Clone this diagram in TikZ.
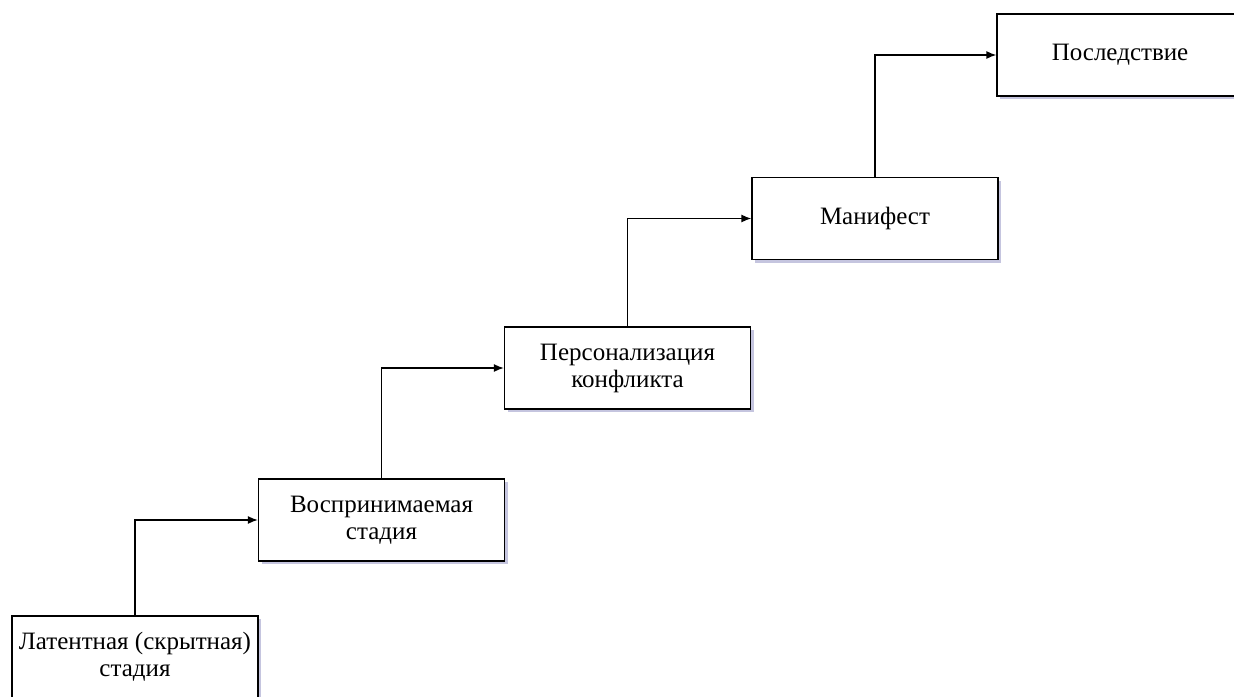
\documentclass[tikz,border=0pt]{standalone}
\usepackage{fontspec}
\setmainfont{Liberation Serif}
\usetikzlibrary{shadows, arrows.meta}

\begin{document}
\begin{tikzpicture}[x=0.5pt, y=-0.5pt, line width=0.65pt,
		stage/.style={draw, fill=white, minimum width=123pt, minimum height=41pt, inner sep=1pt, align=center,
			font=\rmfamily\fontsize{12.5}{13.5}\selectfont,
			drop shadow={shadow xshift=1.5pt, shadow yshift=-1.5pt, opacity=0.35, fill=gray!70!blue}}]
		\clip (0, 0) rectangle (1234, 696);
		\fill [white](0, 0) rectangle (1234, 696);
		\node (latent)at (135, 657)[stage]  {Латентная (скрытная)\\стадия};
		\node (perceived)at (381.5, 520)[stage]  {Воспринимаемая\\стадия};
		\node (personal)at (627.5, 368)[stage]  {Персонализация\\конфликта};
		\node (manifest)at (875, 218.5)[stage]  {Манифест};
		\node (result)at (1120, 55)[stage]  {Последствие};
		\draw [-{Latex[length=5pt, width=4pt]}](latent.north)|-(perceived.west);
		\draw [-{Latex[length=5pt, width=4pt]}](perceived.north)|-(personal.west);
		\draw [-{Latex[length=5pt, width=4pt]}](personal.north)|-(manifest.west);
		\draw [-{Latex[length=5pt, width=4pt]}](manifest.north)|-(result.west);
	\end{tikzpicture}
\end{document}
